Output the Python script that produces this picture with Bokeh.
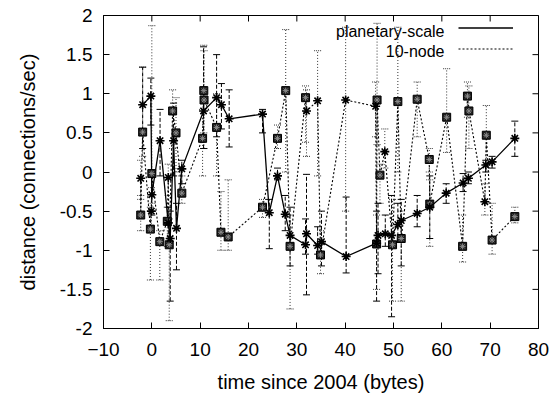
import math
from bokeh.plotting import figure
from bokeh.models import (Range1d, FixedTicker, Whisker, TeeHead,
                          ColumnDataSource, Legend, LegendItem, Label)
from bokeh.embed import file_html
from bokeh.resources import INLINE

# ---------------- data ----------------
x_ticks = [-10, 0, 10, 20, 30, 40, 50, 60, 70, 80]
y_ticks = [-2, -1.5, -1, -0.5, 0, 0.5, 1, 1.5, 2]
y_tick_labels = ["-2", "-1.5", "-1", "-0.5", "0", "0.5", "1", "1.5", "2"]

planetary_x = [-1.9, -0.2, 0.0, 1.7, 3.4, 3.8, 4.5, 5.1, 6.2, 10.7, 13.4, 14.4,
               16.0, 22.9, 24.3, 26.0, 27.6, 28.6, 31.8, 32.0, 34.3, 35.1, 40.2,
               46.5, 46.8, 48.3, 49.6, 50.9, 51.6, 54.9, 57.5, 60.9, 64.4, 65.5,
               69.1, 70.4, 75.1]
planetary_y = [0.86, 0.97, -0.29, 0.40, -0.65, -0.85, 0.40, -0.72, 0.04, 0.78, 0.95, 0.86,
               0.68, 0.74, -0.52, -0.05, -0.54, -0.81, -0.93, -0.79, -0.94, -0.89, -1.08,
               -0.91, -0.81, -0.79, -0.81, -0.67, -0.62, -0.53, -0.45, -0.27, -0.14, -0.08,
               0.09, 0.13, 0.43]
planetary_lo = [0.30, 0.60, -0.55, -0.05, -0.95, -1.65, -0.05, -1.25, -0.15, 0.30, 0.45, 0.55,
                0.32, 0.50, -0.98, -0.10, -0.75, -1.20, -1.05, -1.57, -1.05, -1.20, -1.29,
                -1.65, -1.30, -0.95, -1.85, -0.90, -1.20, -0.70, -0.85, -0.40, -0.25, -0.15,
                0.00, 0.05, 0.20]
planetary_hi = [1.34, 1.20, 0.00, 0.80, -0.45, -0.50, 0.88, -0.40, 0.15, 1.60, 1.50, 1.13,
                1.05, 0.80, -0.35, 0.05, -0.30, -0.45, -0.60, -0.03, -0.70, -0.50, -0.32,
                -0.50, -0.40, -0.55, -0.30, -0.40, -0.35, -0.30, -0.05, -0.15, -0.02, 0.00,
                0.15, 0.20, 0.65]

node_x = [-2.3, -2.3, -1.9, -0.3, -0.1, 0.0, 1.65, 3.2, 3.4, 3.6, 4.3, 5.0, 6.2,
          10.5, 10.75, 10.8, 13.4, 14.3, 15.8, 22.9, 26.0, 27.7, 28.6, 31.8, 32.0,
          34.3, 34.9, 40.1, 46.3, 46.5, 46.6, 47.2, 48.2, 49.8, 50.9, 51.6, 54.9,
          57.4, 57.5, 61.0, 64.3, 65.3, 65.6, 68.9, 69.2, 70.4, 75.1]
node_y = [-0.08, -0.55, 0.51, -0.73, -0.50, -0.02, -0.89, -0.63, -0.07, -0.93, 0.78, 0.50, -0.27,
          0.43, 1.04, 0.92, 0.57, -0.77, -0.83, -0.45, 0.43, 1.04, -0.95, 0.95, 0.78,
          0.91, -1.06, 0.92, 0.84, -0.92, 0.92, -0.04, 0.26, -0.93, 0.90, -0.85, 0.93,
          0.16, -0.41, 0.70, -0.95, 0.97, 0.78, -0.38, 0.47, -0.87, -0.57]
node_lo = [-0.35, -0.75, 0.20, -1.38, -0.70, -0.40, -1.38, -0.95, -0.30, -1.90, 0.30, 0.00, -0.40,
           -0.05, 0.50, 0.30, -0.05, -1.00, -1.00, -0.58, 0.30, 0.00, -1.75, 0.38, 0.20,
           -0.05, -1.30, -0.50, 0.45, -1.50, 0.35, -0.40, 0.05, -1.65, 0.00, -1.65, 0.45,
           0.00, -0.95, 0.25, -1.15, 0.70, 0.30, -0.55, 0.10, -1.05, -0.65]
node_hi = [0.15, -0.30, 1.34, -0.45, -0.20, 1.87, -0.75, -0.45, 0.10, -0.60, 1.05, 0.95, -0.05,
           0.80, 1.62, 1.55, 1.00, -0.25, -0.10, -0.35, 0.60, 1.82, -0.55, 1.10, 1.05,
           1.55, -0.75, 1.85, 1.15, -0.55, 1.90, 0.10, 0.55, -0.35, 1.85, -0.50, 1.15,
           0.30, -0.10, 1.32, -0.55, 1.15, 1.10, -0.15, 0.85, -0.40, -0.45]
node_marker = ["star", "sq", "sq", "sq", "star", "sq", "sq", "sq", "star", "sq", "sq", "sq", "sq",
               "sq", "sq", "sq", "sq", "sq", "sq", "sq", "sq", "sq", "sq", "sq", "star",
               "star", "sq", "star", "star", "sq", "sq", "sq", "star", "sq", "sq", "sq", "sq",
               "sq", "sq", "sq", "sq", "sq", "sq", "star", "sq", "sq", "sq"]

series_names = ["planetary-scale", "10-node"]

# ---------------- layout constants (pixels) ----------------
W, H = 553, 395
BL, BR, BT, BB = 103, 15, 15, 64
FW, FH = W - BL - BR, H - BT - BB
X0, X1 = x_ticks[0], x_ticks[-1]
Y0, Y1 = y_ticks[0], y_ticks[-1]

FONT = "Liberation Sans"
p = figure(width=W, height=H, x_range=Range1d(X0, X1), y_range=Range1d(Y0, Y1),
           output_backend="svg", toolbar_location=None,
           min_border_left=BL, min_border_right=BR, min_border_top=BT, min_border_bottom=BB)
p.xgrid.visible = False
p.ygrid.visible = False
p.outline_line_color = "black"
p.outline_line_width = 1
p.background_fill_color = "white"
p.border_fill_color = "white"

for ax, ticks in ((p.xaxis[0], x_ticks), (p.yaxis[0], y_ticks)):
    ax.ticker = FixedTicker(ticks=ticks)
    ax.major_tick_in = 6
    ax.major_tick_out = 0
    ax.minor_tick_in = 0
    ax.minor_tick_out = 0
    ax.axis_line_color = "black"
    ax.major_tick_line_color = "black"
    ax.major_label_text_font = FONT
    ax.major_label_text_color = "black"
    ax.major_label_text_font_size = "19px"
    ax.axis_label_text_font = FONT
    ax.axis_label_text_font_size = "20px"
    ax.axis_label_text_font_style = "normal"
    ax.axis_label_text_color = "black"

p.yaxis[0].major_label_overrides = {t: s for t, s in zip(y_ticks, y_tick_labels)}
p.xaxis[0].major_label_standoff = 14
p.yaxis[0].major_label_standoff = 11
p.xaxis[0].axis_label = "time since 2004 (bytes)"
p.yaxis[0].axis_label = "distance (connections/sec)"
p.xaxis[0].axis_label_standoff = 12
p.yaxis[0].axis_label_standoff = 18

# mirrored inward ticks on top and right edges (half of each dash is clipped away)
p.scatter(x=x_ticks, y=[Y1] * len(x_ticks), marker="dash", angle=math.pi / 2, size=12,
          line_color="black", line_width=1)
p.scatter(x=[X1] * len(y_ticks), y=y_ticks, marker="dash", size=12,
          line_color="black", line_width=1)

# ---------------- sources ----------------
src_p = ColumnDataSource(dict(x=planetary_x, y=planetary_y, lo=planetary_lo, hi=planetary_hi))
src_n = ColumnDataSource(dict(x=node_x, y=node_y, lo=node_lo, hi=node_hi))
sq_idx = [i for i, m in enumerate(node_marker) if m == "sq"]
st_idx = [i for i, m in enumerate(node_marker) if m == "star"]
src_sq = ColumnDataSource(dict(x=[node_x[i] for i in sq_idx], y=[node_y[i] for i in sq_idx]))
src_st = ColumnDataSource(dict(x=[node_x[i] for i in st_idx], y=[node_y[i] for i in st_idx]))

# error bars
wn = Whisker(source=src_n, base="x", lower="lo", upper="hi", dimension="height",
             line_color="#333333", line_width=1, line_dash="1 2",
             lower_head=TeeHead(size=7, line_color="#333333", line_width=1, line_dash="1 1"),
             upper_head=TeeHead(size=7, line_color="#333333", line_width=1, line_dash="1 1"))
wp = Whisker(source=src_p, base="x", lower="lo", upper="hi", dimension="height",
             line_color="black", line_width=1, line_dash="4 2",
             lower_head=TeeHead(size=7, line_color="black", line_width=1),
             upper_head=TeeHead(size=7, line_color="black", line_width=1))
p.add_layout(wn)
p.add_layout(wp)

# lines
ln = p.line("x", "y", source=src_n, line_color="black", line_width=1.1, line_dash="2 2")
lp = p.line("x", "y", source=src_p, line_color="black", line_width=1.3)

# markers
p.scatter("x", "y", source=src_sq, marker="square", size=8, fill_color="#1e1e1e",
          line_color="black", line_width=1)
p.scatter("x", "y", source=src_sq, marker="asterisk", size=6, line_color="#8a8a8a", line_width=1)
p.scatter("x", "y", source=src_st, marker="asterisk", size=9, line_color="black", line_width=1.6)
p.scatter("x", "y", source=src_p, marker="asterisk", size=9, line_color="black", line_width=1.6)

# legend: samples via Legend (right side), texts as right-aligned labels to their left
SAMPLE_X, SAMPLE_W, ROW_H = 458, 55, 21          # page pixels of sample start / width
ROW1_Y, ROW2_Y, TEXT_RIGHT = 30.7, 51.7, 444      # page pixels
leg_p = p.scatter(x=[], y=[], marker="cross", size=7, line_color="black", line_width=1)
leg_n = p.scatter(x=[], y=[], marker="asterisk", size=8, line_color="black", line_width=1.3)
legend = Legend(items=[LegendItem(label=" ", renderers=[lp, leg_p]),
                       LegendItem(label=" ", renderers=[ln, leg_n])],
                location=(SAMPLE_X - BL, FH - (ROW2_Y - BT) - ROW_H / 2),
                glyph_width=SAMPLE_W, glyph_height=ROW_H, spacing=0,
                padding=0, margin=0, label_standoff=0, label_width=0,
                label_text_font_size="1px", border_line_color=None,
                background_fill_alpha=0)
p.add_layout(legend, "center")

def px_to_x(px):
    return X0 + (px - BL) / FW * (X1 - X0)

def py_to_y(py):
    return Y1 - (py - BT) / FH * (Y1 - Y0)

for name, row_y in zip(series_names, [ROW1_Y, ROW2_Y]):
    p.add_layout(Label(x=px_to_x(TEXT_RIGHT), y=py_to_y(row_y), text=name,
                       text_align="right", text_baseline="middle", text_font=FONT,
                       text_font_size="16px", text_color="black"))

open("out.html", "w").write(file_html(p, INLINE))
